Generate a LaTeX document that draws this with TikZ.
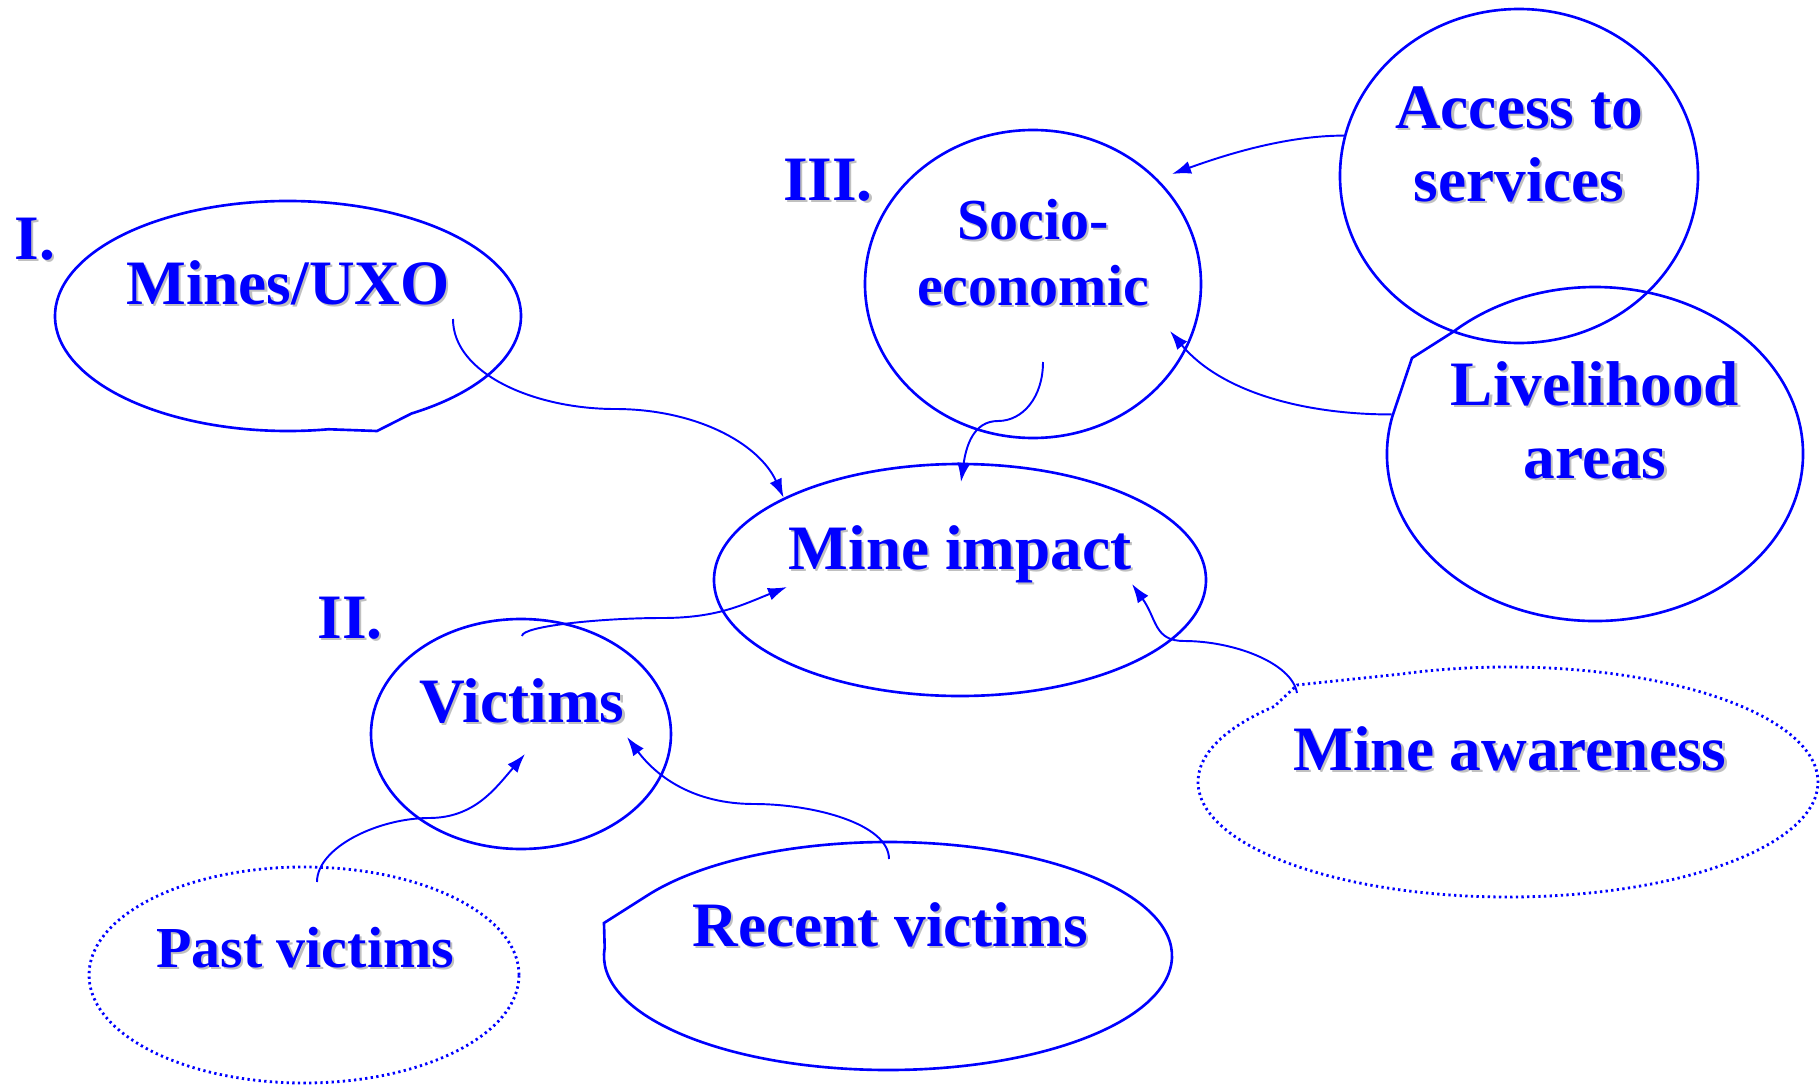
\documentclass[tikz,border=0pt]{standalone}
\usepackage{fontspec}
\setmainfont{Liberation Serif}
\usetikzlibrary{arrows.meta,shapes.geometric,calc}
\definecolor{diagblue}{RGB}{0,0,255}
\definecolor{shadowgray}{RGB}{192,192,192}
% text with a grey drop shadow
\newcommand{\shadowlabel}[4][]{%
  \node[lbl,#1,text=shadowgray,xshift=0.22mm,yshift=-0.22mm] (#2-s) at (#3) {#4};
  \node[lbl,#1] (#2) at (#3) {#4};
}

\begin{document}
\begin{tikzpicture}[>=Latex]
\tikzset{
  blob/.style={ellipse, draw=diagblue, line width=0.75pt, inner sep=0pt},
  dotblob/.style={blob, line width=0.8pt, dash pattern=on 0.65pt off 0.95pt},
  outline/.style={draw=diagblue, line width=0.75pt},
  dotline/.style={outline, line width=0.8pt, dash pattern=on 0.65pt off 0.95pt},
  lbl/.style={font=\bfseries\fontsize{18pt}{20.7pt}\selectfont, text=diagblue, inner sep=0pt, anchor=base, align=center},
  smallfont/.style={font=\bfseries\fontsize{16.5pt}{18.6pt}\selectfont},
  conn/.style={draw=diagblue, line width=0.55pt, -{Latex[length=1.9mm,width=1.3mm]}}
}
\useasboundingbox (0,0) rectangle (18.2,10.84);

% outlines
\node[blob, draw=none, minimum width=4.66cm, minimum height=2.30cm] (mines) at (2.88,7.68) {};
\node[blob, minimum width=4.92cm, minimum height=2.32cm] (impact) at (9.60,5.04) {};
\node[blob, minimum width=3.36cm, minimum height=3.08cm] (socio) at (10.33,8.00) {};
\node[blob, minimum width=3.58cm, minimum height=3.34cm] (access) at (15.19,9.08) {};
\node[blob, draw=none, minimum width=4.16cm, minimum height=3.34cm] (live) at (15.95,6.30) {};
\node[blob, minimum width=3.00cm, minimum height=2.30cm] (victims) at (5.21,3.50) {};
\node[dotblob, minimum width=4.30cm, minimum height=2.16cm] (past) at (3.04,1.09) {};
\node[blob, draw=none, minimum width=5.68cm, minimum height=2.28cm] (recent) at (8.88,1.28) {};
\node[dotblob, draw=none, minimum width=6.20cm, minimum height=2.30cm] (aware) at (15.08,3.02) {};

% hand-drawn kinks
\draw[outline] ($(mines.center)+(-58:2.33 and 1.15)$)
  arc[start angle=-58, end angle=280, x radius=2.33, y radius=1.15]
  -- ($(mines.center)+(0.89,-1.15)$) -- cycle;
\draw[outline] ($(live.center)+(167:2.08 and 1.67)$)
  arc[start angle=167, end angle=493, x radius=2.08, y radius=1.67]
  -- ($(live.center)+(-1.83,0.96)$) -- cycle;
\draw[outline] ($(recent.center)+(176:2.84 and 1.14)$)
  arc[start angle=176, end angle=508, x radius=2.84, y radius=1.14]
  -- ($(recent.center)+(-2.84,0.33)$) -- cycle;
\draw[dotline] ($(aware.center)+(139:3.10 and 1.15)$)
  arc[start angle=139, end angle=470, x radius=3.10, y radius=1.15]
  -- ($(aware.center)+(-2.11,0.97)$) -- cycle;

% labels
\shadowlabel{numI}{0.35,8.25}{I.}
\shadowlabel{numII}{3.50,4.46}{II.}
\shadowlabel{numIII}{8.28,8.84}{III.}
\shadowlabel{minest}{2.88,7.80}{Mines/UXO}
\shadowlabel{impactt}{9.60,5.15}{Mine impact}
\shadowlabel[smallfont]{sociot}{10.33,7.79}{Socio-\\economic}
\shadowlabel{accesst}{15.19,8.83}{Access to\\services}
\shadowlabel{livet}{15.95,6.06}{Livelihood\\areas}
\shadowlabel{victimst}{5.22,3.62}{Victims}
\shadowlabel[smallfont]{pastt}{3.05,1.17}{Past victims}
\shadowlabel{recentt}{8.90,1.38}{Recent victims}
\shadowlabel{awaret}{15.10,3.14}{Mine awareness}

% connector ends
\coordinate (minesout) at ($(mines.center)+(1.65,-0.03)$);
\coordinate (socioout) at ($(socio.center)+(0.10,-0.78)$);
\coordinate (vicout) at ($(victims.center)+(0.01,0.98)$);
\coordinate (pastout) at ($(past.center)+(0.13,0.93)$);
\coordinate (recout) at ($(recent.center)+(0.01,0.97)$);
\coordinate (awareout) at ($(aware.center)+(-2.11,0.89)$);
\coordinate (impN) at ($(impact.center)+(0.01,0.98)$);
\coordinate (impW) at ($(impact.center)+(-1.73,-0.07)$);
\coordinate (impE) at ($(impact.center)+(1.72,-0.04)$);
\coordinate (vicS) at ($(victims.center)+(0.04,-0.20)$);
\coordinate (vicE) at ($(victims.center)+(1.06,-0.03)$);
\coordinate (socNE) at ($(socio.center)+(1.39,1.10)$);
\coordinate (socE) at ($(socio.center)+(1.37,-0.47)$);

% connectors
\draw[conn] (minesout) .. controls +(0,-0.55) and +(-0.8,0) .. (6.15,6.75)
  .. controls +(0.8,0) and +(-0.25,0.55) .. (impact.155);
\draw[conn] (socioout) .. controls +(0,-0.35) and +(0.25,0) .. (9.98,6.63)
  .. controls +(-0.25,0) and +(0.05,0.35) .. (impN);
\draw[conn] (access.167) .. controls +(-0.6,0) and +(0.5,0.18) .. (socNE);
\draw[conn] (live.169) .. controls +(-0.9,0) and +(0.5,-0.6) .. (socE);
\draw[conn] (vicout) .. controls +(0,0.10) and +(-0.6,0) .. (6.62,4.66)
  .. controls +(0.55,0) and +(-0.45,-0.18) .. (impW);
\draw[conn] (awareout) .. controls +(-0.05,0.3) and +(0.5,0) .. (11.84,4.43)
  .. controls +(-0.3,0) and +(0.25,-0.35) .. (impE);
\draw[conn] (pastout) .. controls +(0,0.35) and +(-0.5,0) .. (4.29,2.66)
  .. controls +(0.45,0) and +(-0.3,-0.35) .. (vicS);
\draw[conn] (recout) .. controls +(0,0.35) and +(0.6,0) .. (7.54,2.80)
  .. controls +(-0.6,0) and +(0.3,-0.4) .. (vicE);
\end{tikzpicture}
\end{document}
